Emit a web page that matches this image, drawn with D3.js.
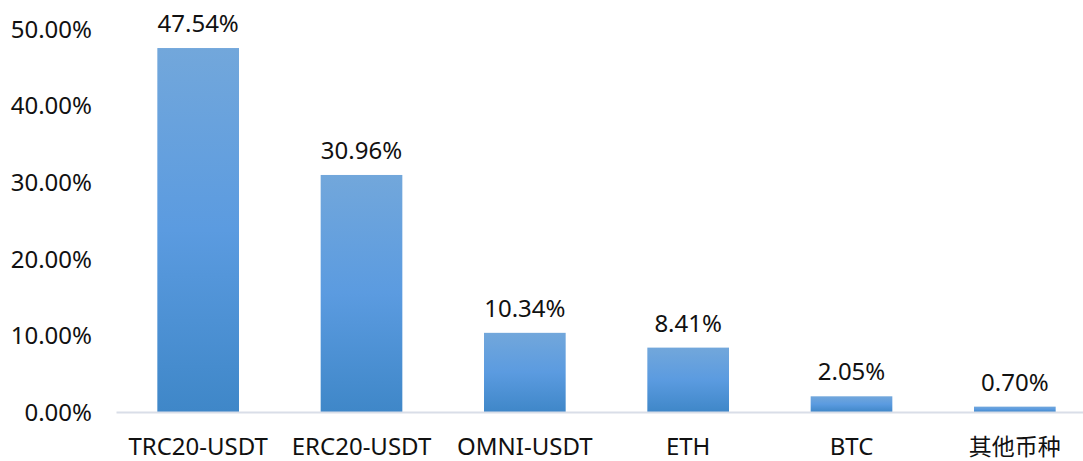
<!DOCTYPE html>
<html><head><meta charset="utf-8">
<script src="https://cdn.jsdelivr.net/npm/d3@7"></script>
<style>body{margin:0;background:#fff}svg{display:block}</style>
</head><body>
<svg id="c" width="1083" height="461"></svg>
<script>
const categories = ["TRC20-USDT","ERC20-USDT","OMNI-USDT","ETH","BTC","其他币种"];
const values = [0.4754,0.3096,0.1034,0.0841,0.0205,0.0070];
const yTicks = [0,0.1,0.2,0.3,0.4,0.5];

const svg = d3.select("#c");
const font = "'Noto Sans','Noto Sans CJK SC',sans-serif";
const y = d3.scaleLinear().domain([0,0.5]).range([412,29.2]);
const x = d3.scaleBand().domain(categories).range([116.5,1096.5]).paddingInner(0.5).paddingOuter(0.25);

const defs = svg.append("defs");
const g = defs.append("linearGradient").attr("id","bg").attr("x1",0).attr("y1",0).attr("x2",0).attr("y2",1);
g.append("stop").attr("offset","0%").attr("stop-color","#72a7db");
g.append("stop").attr("offset","50%").attr("stop-color","#5b9be0");
g.append("stop").attr("offset","100%").attr("stop-color","#3f87c8");

const fmt = d3.format(".2%");

// y axis labels
svg.append("g").selectAll("text").data(yTicks).join("text")
  .attr("x",92).attr("y",d=>y(d)).attr("dy","0.36em")
  .attr("text-anchor","end").attr("font-family",font).attr("font-size",24).attr("fill","#111")
  .text(d=>fmt(d));

// bars
svg.append("g").selectAll("rect").data(values).join("rect")
  .attr("x",(d,i)=>x(categories[i])).attr("width",x.bandwidth())
  .attr("y",d=>y(d)).attr("height",d=>y(0)-y(d))
  .attr("fill","url(#bg)");

// baseline
svg.append("line").attr("x1",116.5).attr("x2",1083).attr("y1",y(0)+0.5).attr("y2",y(0)+0.5)
  .attr("stroke","#d9dee8").attr("stroke-width",2);

// value labels
svg.append("g").selectAll("text").data(values).join("text")
  .attr("x",(d,i)=>x(categories[i])+x.bandwidth()/2).attr("y",d=>y(d)-16)
  .attr("text-anchor","middle").attr("font-family",font).attr("font-size",24).attr("fill","#111")
  .text(d=>fmt(d));

// x labels
svg.append("g").selectAll("text").data(categories).join("text")
  .attr("x",d=>x(d)+x.bandwidth()/2).attr("y",455)
  .attr("text-anchor","middle").attr("font-family",font)
  .attr("font-size",d=>/[\u4e00-\u9fff]/.test(d)?23:24).attr("fill","#111")
  .text(d=>d);
</script>
</body></html>
